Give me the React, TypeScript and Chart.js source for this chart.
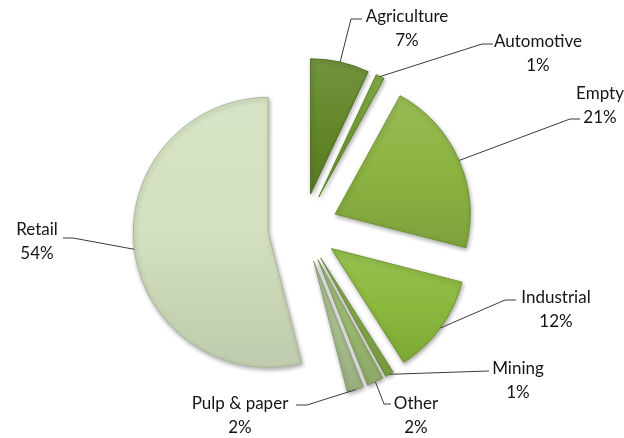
import React, { useEffect, useRef } from "react";
import { Chart, registerables } from "chart.js";

Chart.register(...registerables);

const categories = ["Agriculture", "Automotive", "Empty", "Industrial", "Mining", "Other", "Pulp & paper", "Retail"];
const shares = [7, 1, 21, 12, 1, 2, 2, 54];
const percentLabels = ["7%", "1%", "21%", "12%", "1%", "2%", "2%", "54%"];
const baseColors = ["#638729", "#74a033", "#8cb341", "#8bb93d", "#86ad48", "#9bba72", "#a9c08c", "#d3e1bf"];

// text placement for each label: centre x, first baseline, elbow and attach points of leader
const labelLayout = [
  { cx: 407, y: 22, ex: 351, ey: 19, ax: 362 },
  { cx: 538, y: 47, ex: 482, ey: 44, ax: 493 },
  { cx: 600, y: 99, ex: 570, ey: 119, ax: 580 },
  { cx: 556, y: 303, ex: 505, ey: 300, ax: 516 },
  { cx: 518, y: 374, ex: 488, ey: 371, ax: 489 },
  { cx: 416, y: 409, ex: 384, ey: 404, ax: 391 },
  { cx: 240, y: 409, ex: 307, ey: 405, ax: 296 },
  { cx: 37, y: 235, ex: 73, ey: 238, ax: 63 },
];

const EXPLODE = 35;
const RADIUS = 135;
const FONT = "17px Lato";

function shade(hex: string, amt: number) {
  const n = parseInt(hex.slice(1), 16);
  let r = (n >> 16) & 255, g = (n >> 8) & 255, b = n & 255;
  if (amt >= 0) {
    r = r + (255 - r) * amt; g = g + (255 - g) * amt; b = b + (255 - b) * amt;
  } else {
    r = r * (1 + amt); g = g * (1 + amt); b = b * (1 + amt);
  }
  return `rgb(${Math.round(r)},${Math.round(g)},${Math.round(b)})`;
}

function sliceAngles(i: number) {
  const total = shares.reduce((a, b) => a + b, 0);
  let before = 0;
  for (let k = 0; k < i; k++) before += shares[k];
  const s = -Math.PI / 2 + (2 * Math.PI * before) / total;
  const e = s + (2 * Math.PI * shares[i]) / total;
  return [s, e];
}

const explodePlugin = {
  id: "explode",
  beforeDatasetDraw(chart: any, args: any) {
    const ctx = chart.ctx;
    args.meta.data.forEach((arc: any) => {
      const { startAngle, endAngle } = arc.getProps(["startAngle", "endAngle"], true);
      const mid = (startAngle + endAngle) / 2;
      ctx.save();
      ctx.translate(Math.cos(mid) * EXPLODE, Math.sin(mid) * EXPLODE);
      ctx.shadowColor = "rgba(0,0,0,0.32)";
      ctx.shadowBlur = 4;
      ctx.shadowOffsetX = 1;
      ctx.shadowOffsetY = 2;
      arc.draw(ctx);
      ctx.restore();
    });
    return false;
  },
  afterDatasetsDraw(chart: any) {
    const ctx = chart.ctx;
    const meta = chart.getDatasetMeta(0);
    ctx.save();
    ctx.strokeStyle = "#3a3a3a";
    ctx.lineWidth = 1;
    ctx.font = FONT;
    ctx.fillStyle = "#141414";
    ctx.textAlign = "center";
    ctx.textBaseline = "alphabetic";
    meta.data.forEach((arc: any, i: number) => {
      const { x, y, startAngle, endAngle, outerRadius } = arc.getProps(["x", "y", "startAngle", "endAngle", "outerRadius"], true);
      const mid = (startAngle + endAngle) / 2;
      const px = x + Math.cos(mid) * (EXPLODE + outerRadius);
      const py = y + Math.sin(mid) * (EXPLODE + outerRadius);
      const L = labelLayout[i];
      ctx.beginPath();
      ctx.moveTo(px, py);
      ctx.lineTo(L.ex, L.ey);
      ctx.lineTo(L.ax, L.ey);
      ctx.stroke();
      ctx.fillText(categories[i], L.cx, L.y);
      ctx.fillText(percentLabels[i], L.cx, L.y + 24);
    });
    ctx.restore();
  },
};

export default function App() {
  const ref = useRef<HTMLCanvasElement>(null);
  useEffect(() => {
    if (!ref.current) return;
    const chart = new Chart(ref.current, {
      type: "pie",
      data: {
        labels: categories,
        datasets: [
          {
            data: shares,
            radius: RADIUS,
            backgroundColor: (c: any) => {
              const i = c.dataIndex;
              const base = baseColors[i];
              const area = c.chart.chartArea;
              if (!area || c.type !== "data") return base;
              const cx = (area.left + area.right) / 2;
              const cy = (area.top + area.bottom) / 2;
              const [s, e] = sliceAngles(i);
              let minY = cy, maxY = cy;
              for (let k = 0; k <= 40; k++) {
                const a = s + ((e - s) * k) / 40;
                const yy = cy + Math.sin(a) * RADIUS;
                minY = Math.min(minY, yy);
                maxY = Math.max(maxY, yy);
              }
              const g = c.chart.ctx.createLinearGradient(0, minY, 0, maxY + 1);
              g.addColorStop(0, shade(base, 0.1));
              g.addColorStop(0.5, base);
              g.addColorStop(1, shade(base, -0.1));
              return g;
            },
            borderColor: baseColors.map((b) => shade(b, -0.18)),
            borderWidth: 1,
          } as any,
        ],
      },
      options: {
        responsive: false,
        animation: false,
        devicePixelRatio: 1,
        layout: { padding: { left: 0, right: 18, top: 18, bottom: 0 } },
        plugins: {
          legend: { display: false },
          tooltip: { enabled: false },
        },
      },
      plugins: [explodePlugin],
    });
    return () => chart.destroy();
  }, []);
  return (
    <div style={{ position: "absolute", left: 0, top: 0, width: 624, height: 438, background: "#ffffff" }}>
      <canvas ref={ref} width={624} height={438} style={{ display: "block" }} />
    </div>
  );
}
